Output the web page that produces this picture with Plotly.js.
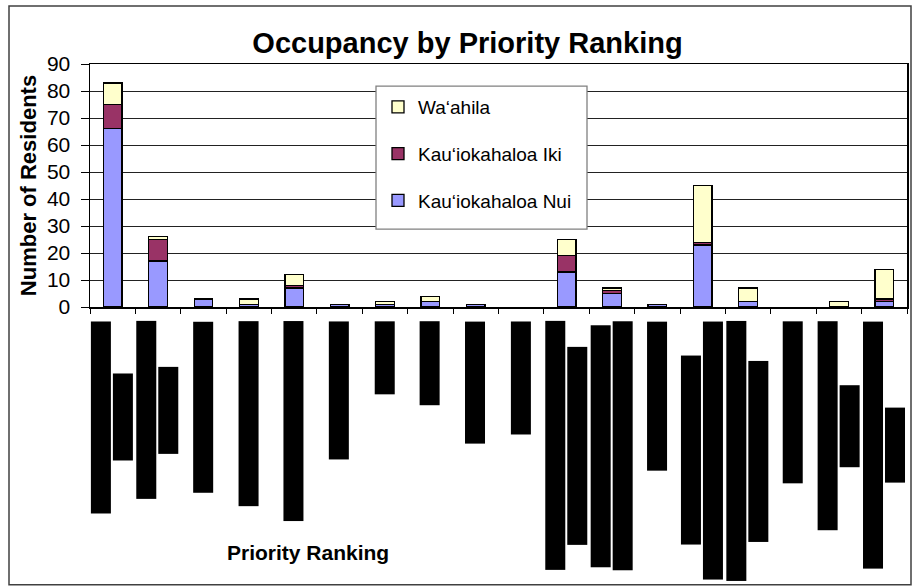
<!DOCTYPE html>
<html><head><meta charset="utf-8">
<script src="https://cdn.plot.ly/plotly-3.0.1.min.js"></script>
<style>html,body{margin:0;padding:0;background:#fff}</style>
</head><body><div id="chart" style="width:913px;height:586px"></div>
<script>
// ---- data ----
const categories = ['1','2','3','4','5','6','7','8','9','10','11','12','13','14','15','16','17','18'];
const seriesNames = ['Kau\u2018iokahaloa Nui', 'Kau\u2018iokahaloa Iki', 'Wa\u2018ahila'];
const nui     = [66,17,3,1,7,1,1,2,1,0,13,5,1,23,2,0,0,2];
const iki     = [ 9, 8,0,0,1,0,0,0,0,0, 6,1,0, 1,0,0,0,1];
const waahila = [ 8, 1,0,2,4,0,1,2,0,0, 6,1,0,21,5,0,2,11];
// tick labels are blacked out in the reference; one or two lines per category
const tickLabelLines = [
  ['Priority 1 (a)','Priority 1 (b)'], ['Priority 2 (a)','Priority 2 (b)'], ['Priority 3'], ['Priority 4'],
  ['Priority 5'], ['Priority 6'], ['Priority 7'], ['Priority 8'], ['Priority 9'], ['Priority 10'],
  ['Priority 11 (a)','Priority 11 (b)'], ['Priority 12 (a)','Priority 12 (b)'], ['Priority 13'],
  ['Priority 14 (a)','Priority 14 (b)'], ['Priority 15 (a)','Priority 15 (b)'], ['Priority 16'],
  ['Priority 17 (a)','Priority 17 (b)'], ['Priority 18 (a)','Priority 18 (b)']
];
const chartTitle = 'Occupancy by Priority Ranking';
const xTitle = 'Priority Ranking';
const yTitle = 'Number of Residents';

// ---- styles ----
const labelBoxLengths = [
  [192,87],[178,87],[171],[185],[200],[138],[73],[84],[122],[113],
  [249,198],[242,249],[149],[189,258],[260,181],[162],[209,82],[247,75]
];
const colors = ['#9999FF', '#993366', '#FFFFCC'];
const legendRanks = [3, 2, 1];
const FONT = 'Liberation Sans, Arial, sans-serif';
const PL = 90, PT = 64, PW = 817, PH = 242.7; // plot area in px
const px2x = p => (p - PL) / PW;
const px2y = p => (PT + PH - p) / PH;

const values = [nui, iki, waahila];
const traces = values.map((v, i) => ({
  type: 'bar', x: categories, y: v.map(d => (d === 0 ? null : d)), name: seriesNames[i],
  legendgroup: 'g' + i, legendrank: legendRanks[i],
  marker: {color: colors[i], line: {color: '#000', width: 1.3}},
  hoverinfo: 'x+y+name'
}));

const annotations = [];
categories.forEach((c, i) => {
  const lines = tickLabelLines[i];
  const lens = labelBoxLengths[i];
  const maxLen = Math.max(...lens);
  lines.forEach((t, j) => {
    annotations.push({
      xref: 'x', yref: 'paper', x: i, y: 0,
      xanchor: 'center', yanchor: 'top',
      xshift: (j - (lines.length - 1) / 2) * 22 - 0.5,
      yshift: -(14.3 + (maxLen - lens[j]) / 2),
      text: t, textangle: -90, showarrow: false,
      width: lens[j], height: 20, bgcolor: '#000', borderpad: 0, borderwidth: 0,
      font: {family: FONT, size: 11, color: '#000'}
    });
  });
});
annotations.push({
  xref: 'paper', yref: 'paper', x: px2x(307.5), y: px2y(552), xanchor: 'center', yanchor: 'middle',
  text: '<b>' + xTitle + '</b>', showarrow: false, font: {family: FONT, size: 21, color: '#000'}
});

const layout = {
  width: 913, height: 586,
  margin: {l: 90, r: 6, t: 64, b: 279, pad: 0},
  paper_bgcolor: '#fff', plot_bgcolor: '#fff',
  barmode: 'stack', bargap: 0.59,
  font: {family: FONT, color: '#000'},
  title: {text: '<b>' + chartTitle + '</b>', font: {family: FONT, size: 29, color: '#000'},
          xref: 'paper', x: px2x(467.5), xanchor: 'center', yref: 'container', y: 1 - 43 / 586, yanchor: 'middle'},
  xaxis: {
    type: 'category', showticklabels: false, ticks: 'outside', tickson: 'boundaries', ticklen: 5,
    tickcolor: '#000', showline: true, linecolor: '#000', linewidth: 1.5, mirror: true,
    showgrid: false, automargin: false
  },
  yaxis: {
    range: [0, 90], dtick: 10, ticks: 'outside', ticklen: 8, tickcolor: '#000', ticklabelstandoff: 6,
    tickfont: {family: FONT, size: 21, color: '#000'},
    showline: true, linecolor: '#000', linewidth: 1.5, mirror: true,
    showgrid: true, gridcolor: '#222', gridwidth: 1, zeroline: false, automargin: false,
    title: {text: '<b>' + yTitle + '</b>', font: {family: FONT, size: 22, color: '#000'}}
  },
  legend: {
    x: px2x(378), y: px2y(88), xanchor: 'left', yanchor: 'top',
    traceorder: 'grouped', tracegroupgap: 19,
    bgcolor: 'rgba(0,0,0,0)', borderwidth: 0,
    font: {family: FONT, size: 19, color: '#000'}
  },
  shapes: [{
    type: 'rect', xref: 'paper', yref: 'paper',
    x0: px2x(9), x1: px2x(911), y0: px2y(584), y1: px2y(6),
    line: {color: '#404040', width: 1.5}, fillcolor: 'rgba(0,0,0,0)', layer: 'below'
  }, {
    type: 'rect', xref: 'paper', yref: 'paper',
    x0: px2x(376), x1: px2x(587), y0: px2y(229), y1: px2y(86),
    line: {color: '#808080', width: 1.3}, fillcolor: '#fff', layer: 'above'
  }],
  annotations: annotations,
  showlegend: true
};

Plotly.newPlot('chart', traces, layout, {displayModeBar: false, staticPlot: true});
</script></body></html>
